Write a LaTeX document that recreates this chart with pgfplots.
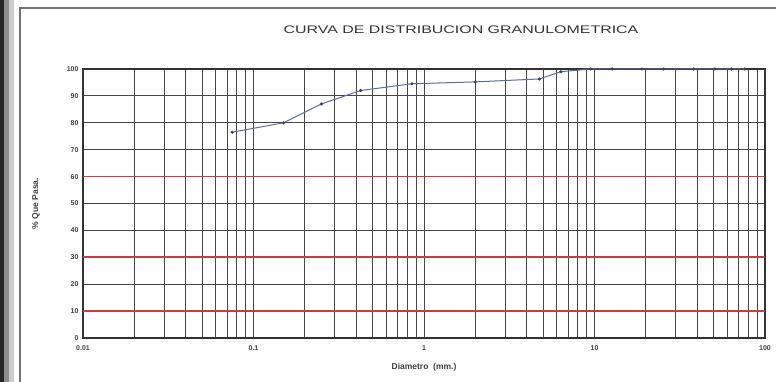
\documentclass[border=0pt]{standalone}
\usepackage{fontspec}
\setmainfont{Liberation Sans}
\usepackage{graphicx}
\usepackage{pgfplots}
\pgfplotsset{compat=1.18}
\definecolor{curve}{RGB}{95,108,150}
\definecolor{gridc}{RGB}{70,70,70}
\definecolor{redl}{RGB}{205,60,60}
\begin{document}
\begin{tikzpicture}[x=1pt,y=1pt]
\path[use as bounding box] (0,0) rectangle (776,382);
\fill[white] (0,0) rectangle (776,382);
\fill[black!85] (0,0) rectangle (4,382);
\fill[black!45] (4,0) rectangle (9,382);
\fill[black!20] (9,0) rectangle (14,382);
\draw[black!55, line width=1.2pt] (20,0) -- (20,374) -- (776,374);
\node[font=\fontsize{11}{13}\selectfont, text=black!80] at (461,352) {\scalebox{1.45}[1]{CURVA DE DISTRIBUCION GRANULOMETRICA}};
\begin{axis}[
  at={(83pt,44pt)}, anchor=south west,
  scale only axis, width=682pt, height=269pt,
  xmode=log, xmin=0.01, xmax=100,
  ymin=0, ymax=100,
  xtick={0.01,0.1,1,10,100},
  xticklabels={0.01,0.1,1,10,100},
  ytick={0,10,...,100},
  minor xtick={0.02,0.03,0.04,0.05,0.06,0.07,0.08,0.09,0.2,0.3,0.4,0.5,0.6,0.7,0.8,0.9,2,3,4,5,6,7,8,9,20,30,40,50,60,70,80,90},
  grid=both,
  major grid style={gridc, line width=1pt},
  minor grid style={gridc, line width=1pt},
  axis line style={black!80, line width=1.2pt},
  tick style={draw=none},
  tick label style={font=\fontsize{7}{8}\selectfont\bfseries, text=black!75},
  /pgf/number format/assume math mode=true,
  yticklabel style={xshift=-1pt},
  xticklabel style={yshift=-4pt},
  xlabel={Diametro\ \ (mm.)},
  ylabel={\% Que Pasa.},
  xlabel style={font=\fontsize{8.5}{9}\selectfont\bfseries, text=black!75, yshift=-6pt},
  ylabel style={font=\fontsize{8.5}{9}\selectfont\bfseries, text=black!75, yshift=20pt},
  clip=false,
]
\addplot[redl, line width=1.6pt, forget plot] coordinates {(0.01,60) (100,60)};
\addplot[redl, line width=1.6pt, forget plot] coordinates {(0.01,30.2) (100,30.2)};
\addplot[redl, line width=1.6pt, forget plot] coordinates {(0.01,10) (100,10)};
\addplot[curve, line width=1pt, mark=*, mark size=1pt, mark options={fill=curve!60!black, draw=curve!60!black}] coordinates {
(0.075,76.5) (0.15,80) (0.25,87) (0.425,92) (0.85,94.5) (2.0,95.2) (4.75,96.3) (6.35,99) (9.5,100) (12.7,100) (19,100) (25.4,100) (38.1,100) (50.8,100) (63.5,100) (76.2,100)
};
\end{axis}
\end{tikzpicture}
\end{document}
